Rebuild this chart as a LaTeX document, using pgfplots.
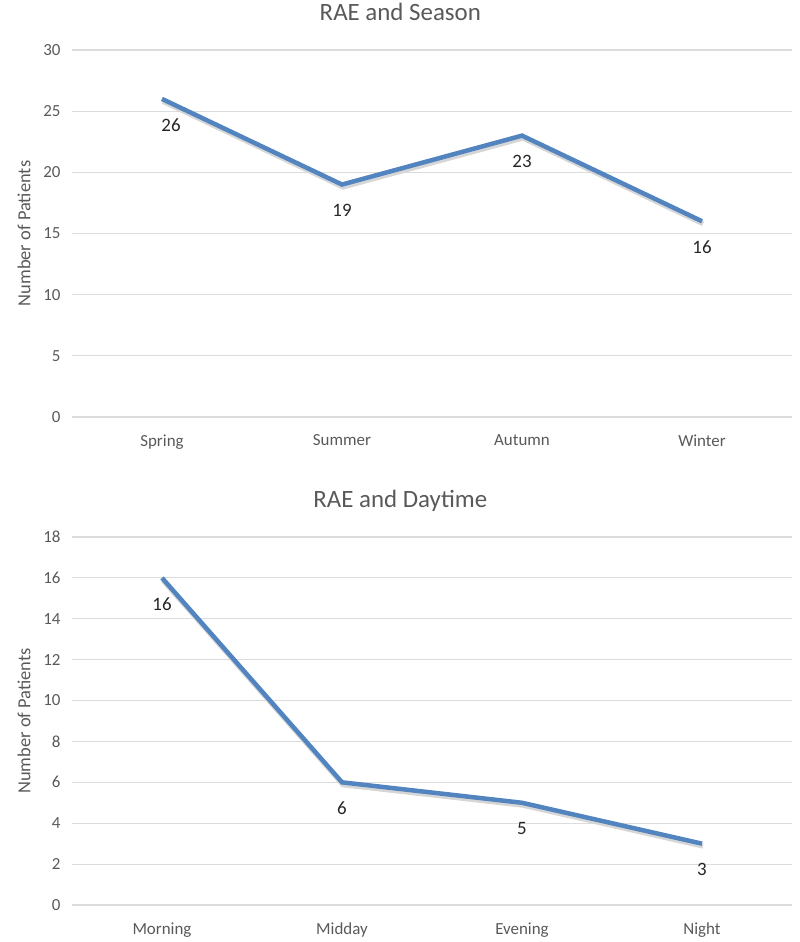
\documentclass[border=0pt]{standalone}
\usepackage{pgfplots}
\pgfplotsset{compat=1.18}
\usepackage{fontspec}
\setmainfont{Carlito}
\definecolor{lineblue}{RGB}{82,132,192}
\definecolor{txtgray}{RGB}{89,89,89}
\definecolor{gridgray}{RGB}{220,220,220}
\pgfplotsset{
  rae/.style={
    scale only axis, width=720bp,
    xmin=-0.5, xmax=3.5,
    ymin=0,
    xtick={0,1,2,3},
    axis line style={draw=none},
    tick style={draw=none},
    ymajorgrids, grid style={gridgray, line width=1.2bp},
    /pgf/number format/assume math mode=true,
    ticklabel style={font=\fontsize{17}{19}\selectfont, text=txtgray},
    yticklabel style={xshift=-8bp},
    xticklabel style={yshift=-14bp},
    ylabel style={font=\fontsize{18.5}{20}\selectfont, text=txtgray, at={(-48bp,0.5)}, anchor=center},
    title style={font=\fontsize{25}{28}\selectfont, text=txtgray, at={(0.456,1)}, anchor=base, yshift=24bp},
    clip=false,
  },
  shadowline/.style={draw=black!16, line width=5bp, yshift=-2.5bp, xshift=1bp, mark=none},
  mainline/.style={draw=lineblue, line width=4.5bp, mark=none,
     nodes near coords, point meta=explicit symbolic,
     every node near coord/.append style={anchor=center, yshift=-26bp, font=\fontsize{19}{21}\selectfont, text=black!85}},
}
\begin{document}
\begin{tikzpicture}[x=1bp,y=1bp]
\useasboundingbox (0,0) rectangle (800,942);
\begin{axis}[rae, at={(72bp,525bp)}, anchor=south west, height=367bp,
  ymax=30, ytick={0,5,...,30},
  xticklabels={Spring,Summer,Autumn,Winter},
  ylabel={Number of Patients},
  title={RAE and Season},
]
\addplot[shadowline] coordinates {(0,26) (1,19) (2,23) (3,16)};
\addplot[mainline] coordinates {(0,26)[\hspace*{18bp}26] (1,19)[19] (2,23)[23] (3,16)[16]};
\end{axis}
\begin{axis}[rae, at={(72bp,37bp)}, anchor=south west, height=368bp,
  ymax=18, ytick={0,2,...,18},
  xticklabels={Morning,Midday,Evening,Night},
  ylabel={Number of Patients},
  title={RAE and Daytime},
]
\addplot[shadowline] coordinates {(0,16) (1,6) (2,5) (3,3)};
\addplot[mainline] coordinates {(0,16)[16] (1,6)[6] (2,5)[5] (3,3)[3]};
\end{axis}
\end{tikzpicture}
\end{document}
